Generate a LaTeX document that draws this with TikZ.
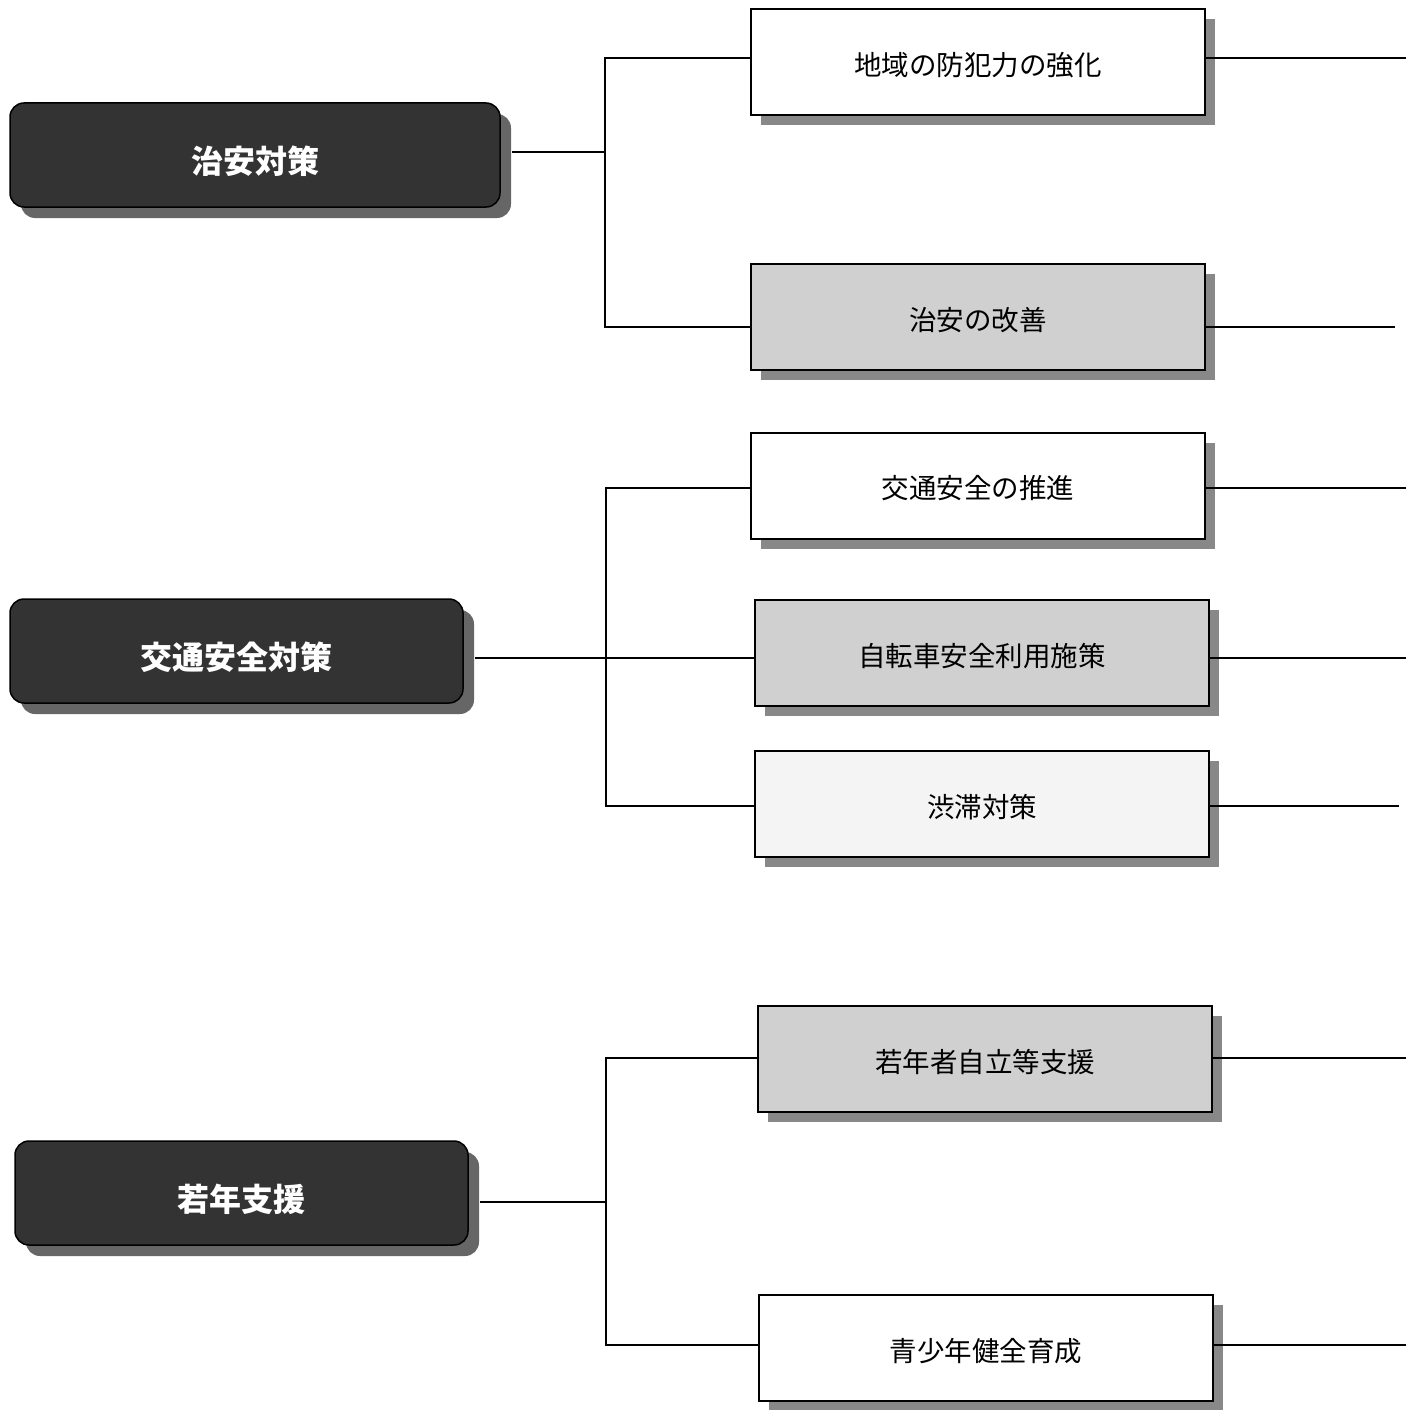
\documentclass[tikz,border=0pt]{standalone}
\usepackage{fontspec}
\newfontfamily\cjk{Noto Sans CJK JP}
\usetikzlibrary{shadows}
\definecolor{mdark}{HTML}{333333}
\definecolor{mshadow}{HTML}{666666}
\definecolor{sshadow}{HTML}{888888}
\definecolor{sgray}{HTML}{D0D0D0}
\definecolor{slight}{HTML}{F4F4F4}
\newcommand\mtxt[1]{\raisebox{-6pt}[\height][\depth]{#1}}
\newcommand\stxt[1]{\raisebox{-3pt}[\height][\depth]{#1}}
\begin{document}
\begin{tikzpicture}[x=1pt,y=-1pt,
  mainbox/.style={draw=black, line width=1.5pt, fill=mdark, rounded corners=14pt,
    minimum height=104pt, text=white, inner sep=0pt,
    font=\cjk\bfseries\fontsize{32}{38}\selectfont,
    general shadow={fill=mshadow, shadow xshift=11pt, shadow yshift=-11pt}},
  subbox/.style={draw=black, line width=2pt, minimum width=454pt, minimum height=106pt,
    inner sep=0pt, font=\cjk\fontsize{27.5}{33}\selectfont,
    general shadow={fill=sshadow, shadow xshift=10pt, shadow yshift=-10pt}},
  conn/.style={line width=2pt}]
\useasboundingbox (0,0) rectangle (1406,1410);

% main boxes
\node[mainbox, minimum width=490pt] (m1) at (255,155) {\mtxt{治安対策}};
\node[mainbox, minimum width=453pt] (m2) at (236.5,651) {\mtxt{交通安全対策}};
\node[mainbox, minimum width=453pt] (m3) at (241.5,1193) {\mtxt{若年支援}};

% sub boxes
\node[subbox, fill=white] (a) at (978,62) {\stxt{地域の防犯力の強化}};
\node[subbox, fill=sgray] (b) at (978,317) {\stxt{治安の改善}};
\node[subbox, fill=white] (c) at (978,485.5) {\stxt{交通安全の推進}};
\node[subbox, fill=sgray] (d) at (982,653) {\stxt{自転車安全利用施策}};
\node[subbox, fill=slight] (e) at (982,804) {\stxt{渋滞対策}};
\node[subbox, fill=sgray] (f) at (985,1059) {\stxt{若年者自立等支援}};
\node[subbox, fill=white] (g) at (986,1348) {\stxt{青少年健全育成}};

% junction coordinates
\coordinate (j1) at (605,152);
\coordinate (j2) at (606,658);
\coordinate (j3) at (606,1202);

% left connectors
\draw[conn] ([xshift=11pt,yshift=3pt]m1.east) -- (j1);
\draw[conn] ([yshift=4pt]a.west) -| (j1) |- ([yshift=-10pt]b.west);
\draw[conn] ([xshift=11pt,yshift=-7pt]m2.east) -- ([yshift=-5pt]d.west);
\draw[conn] ([yshift=-2.5pt]c.west) -| (j2) |- ([yshift=-2pt]e.west);
\draw[conn] ([xshift=11pt,yshift=-9pt]m3.east) -- (j3);
\draw[conn] ([yshift=1pt]f.west) -| (j3) |- ([yshift=3pt]g.west);

% right free ends
\coordinate (ra) at (1406,58);
\coordinate (rb) at (1395,327);
\coordinate (rc) at (1406,488);
\coordinate (rd) at (1406,658);
\coordinate (re) at (1399,806);
\coordinate (rf) at (1406,1058);
\coordinate (rg) at (1406,1345);
\draw[conn] (a.east |- ra) -- (ra);
\draw[conn] (b.east |- rb) -- (rb);
\draw[conn] (c.east |- rc) -- (rc);
\draw[conn] (d.east |- rd) -- (rd);
\draw[conn] (e.east |- re) -- (re);
\draw[conn] (f.east |- rf) -- (rf);
\draw[conn] (g.east |- rg) -- (rg);
\end{tikzpicture}
\end{document}
